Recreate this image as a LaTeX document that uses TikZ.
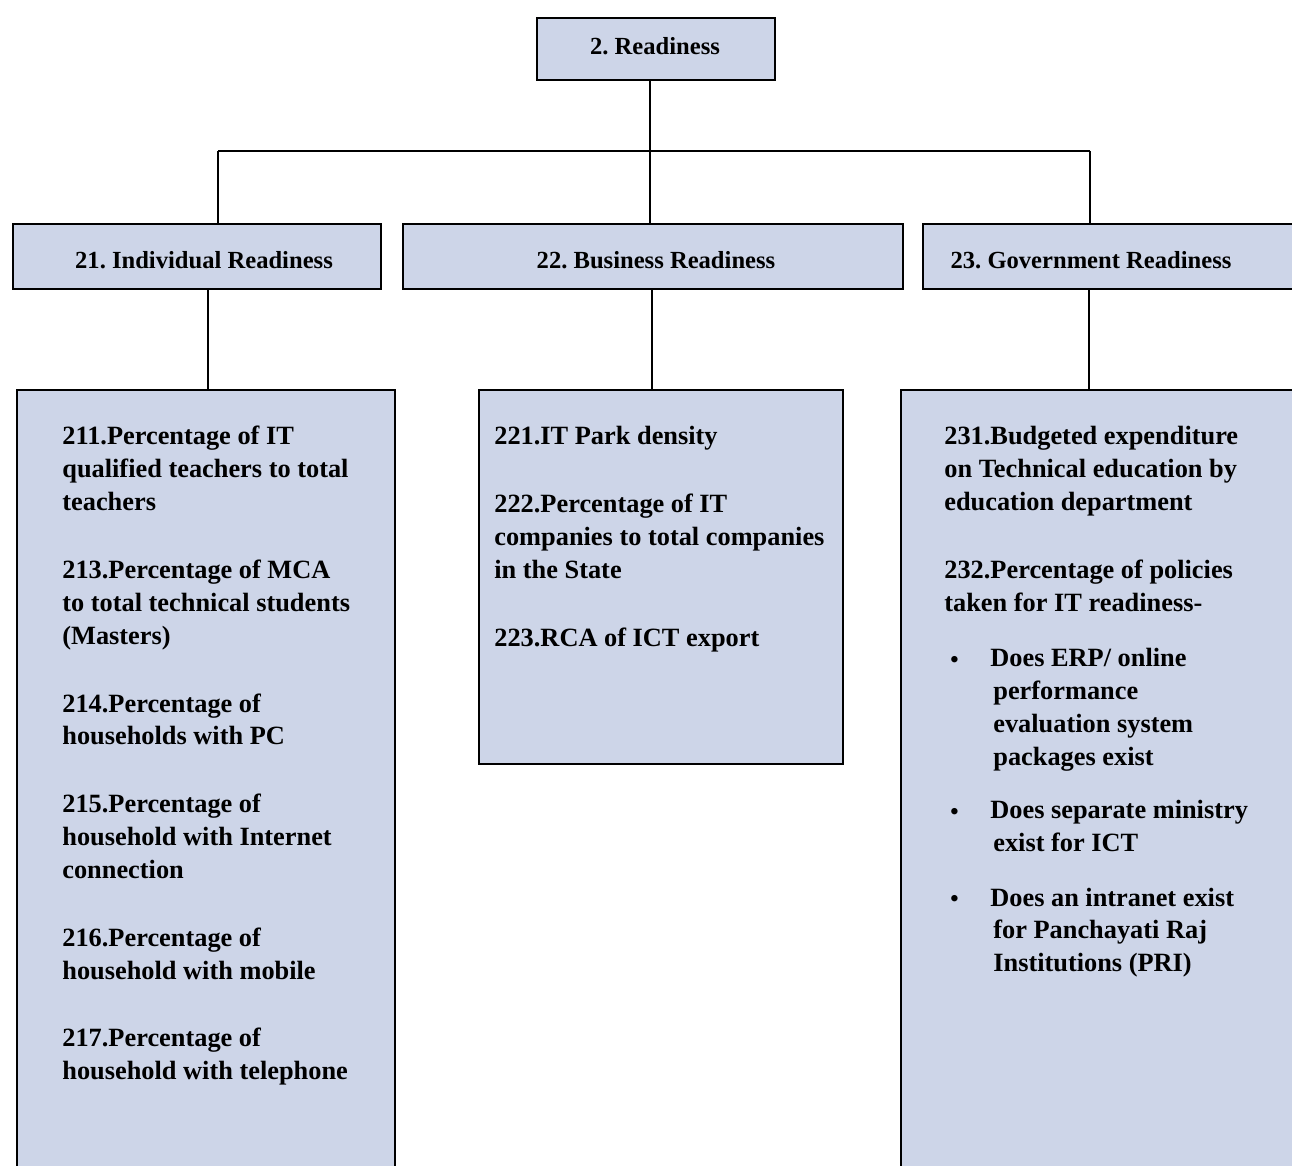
\documentclass[tikz,border=0pt]{standalone}
\usepackage{fontspec}
\setmainfont{Liberation Serif}
\usepackage{tikz}
\usetikzlibrary{calc,positioning}
\frenchspacing

\definecolor{boxblue}{RGB}{205,213,232}
\newcommand{\headfont}{\fontsize{14}{17}\selectfont\bfseries}
\newcommand{\bodyfont}{\fontsize{15}{18.7}\selectfont\bfseries}
\newcommand{\itembox}[1]{\hspace*{0.12cm}\makebox[0.8cm][l]{\raisebox{-0.5pt}{\fontsize{13.5}{14}\selectfont\textbullet}}#1}
\newcommand{\itemcont}[1]{\hspace*{0.98cm}#1}

\tikzset{
  box/.style={draw=black,fill=boxblue,line width=1.1pt,inner sep=0pt,anchor=north west},
  head/.style={font=\headfont,anchor=base,inner sep=0pt},
  body/.style={font=\bodyfont,align=left,anchor=north west,inner sep=0pt},
  link/.style={draw=black,line width=1.1pt}
}

\begin{document}
\begin{tikzpicture}[x=0.02cm,y=-0.02cm]
  \clip (0,0) rectangle (1292,1166);
  \fill[white] (0,0) rectangle (1292,1166);

  % boxes
  \node[box,minimum width=4.76cm,minimum height=1.24cm] (top) at (536,17) {};
  \node[box,minimum width=7.36cm,minimum height=1.30cm] (b21) at (12,223) {};
  \node[box,minimum width=10.0cm,minimum height=1.30cm] (b22) at (402,223) {};
  \node[box,minimum width=8.0cm,minimum height=1.30cm] (b23) at (922,223) {};
  \node[box,minimum width=7.56cm,minimum height=16.0cm] (c21) at (16,389) {};
  \node[box,minimum width=7.28cm,minimum height=7.48cm] (c22) at (478,389) {};
  \node[box,minimum width=8.4cm,minimum height=16.0cm] (c23) at (900,389) {};

  % junctions
  \coordinate (j21) at (218,151);
  \coordinate (j22) at (650,151);
  \coordinate (j23) at (1090,151);
  \coordinate (k21) at (208,340);
  \coordinate (k22) at (652,340);
  \coordinate (k23) at (1089,340);

  \draw[link] (top.south -| j22) -- (j22);
  \draw[link] (j21) -- (j23);
  \draw[link] (j21) -- (j21 |- b21.north);
  \draw[link] (j22) -- (j22 |- b22.north);
  \draw[link] (j23) -- (j23 |- b23.north);
  \draw[link] (b21.south -| k21) -- (k21 |- c21.north);
  \draw[link] (b22.south -| k22) -- (k22 |- c22.north);
  \draw[link] (b23.south -| k23) -- (k23 |- c23.north);

  % headings
  \node[head] (ttop) at (655,55) {2. Readiness};
  \node[head] (t21) at (204,268) {21. Individual Readiness};
  \node[head] (t22) at (656,268) {22. Business Readiness};
  \node[head] (t23) at (1091,268) {23. Government Readiness};

  % indicators
  \node[body] (l21) at (62,426) {211.Percentage of IT\\
    qualified teachers to total\\
    teachers\\[0.7cm]
    213.Percentage of MCA\\
    to total technical students\\
    (Masters)\\[0.7cm]
    214.Percentage of\\
    households with PC\\[0.7cm]
    215.Percentage of\\
    household with Internet\\
    connection\\[0.7cm]
    216.Percentage of\\
    household with mobile\\[0.7cm]
    217.Percentage of\\
    household with telephone};
  \node[body] (l22) at (494,426) {221.IT Park density\\[0.7cm]
    222.Percentage of IT\\
    companies to total companies\\
    in the State\\[0.7cm]
    223.RCA of ICT export};
  \node[body] (l23) at (944,426) {231.Budgeted expenditure\\
    on Technical education by\\
    education department\\[0.7cm]
    232.Percentage of policies\\
    taken for IT readiness-\\[0.46cm]
    \itembox{Does ERP/ online}\\
    \itemcont{performance}\\
    \itemcont{evaluation system}\\
    \itemcont{packages exist}\\[0.4cm]
    \itembox{Does separate ministry}\\
    \itemcont{exist for ICT}\\[0.44cm]
    \itembox{Does an intranet exist}\\
    \itemcont{for Panchayati Raj}\\
    \itemcont{Institutions (PRI)}};
\end{tikzpicture}
\end{document}
